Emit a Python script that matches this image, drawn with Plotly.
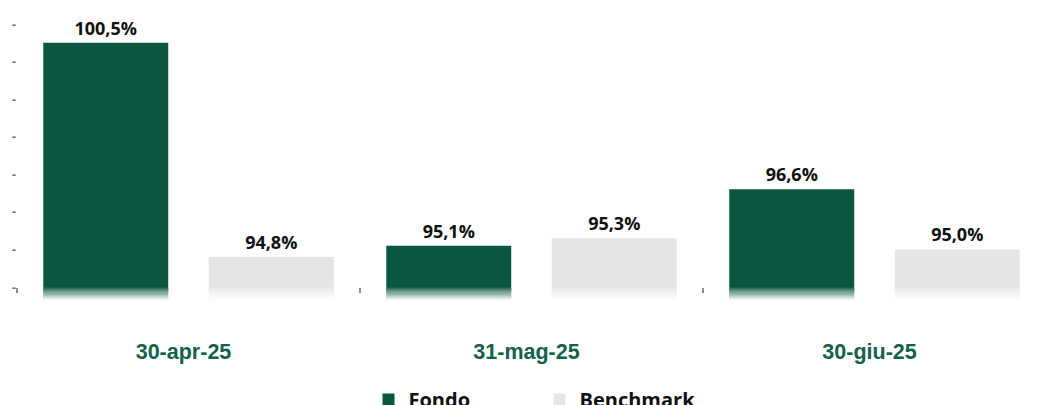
import plotly.graph_objects as go

categories = ["30-apr-25", "31-mag-25", "30-giu-25"]
fondo = [100.5, 95.1, 96.6]
benchmark = [94.8, 95.3, 95.0]
series_names = ["Fondo", "Benchmark"]
y_ticks = [94, 95, 96, 97, 98, 99, 100, 101]
y_tick_labels = ["-"] * len(y_ticks)

GREEN = (11, 86, 64)
GREY = (229, 229, 229)
AXIS_BASE = 94.0
RANGE_BOTTOM = 93.627
RANGE_TOP = 101.373

def rgb(c):
    return "rgb(%d,%d,%d)" % c

def blend(c, t):
    return tuple(round(v + (255 - v) * t) for v in c)

fig = go.Figure()

for name, vals, col, grp in [(series_names[0], fondo, GREEN, "f"),
                             (series_names[1], benchmark, GREY, "b")]:
    fig.add_trace(go.Bar(
        x=categories,
        y=[v - AXIS_BASE for v in vals],
        base=[AXIS_BASE] * len(vals),
        name=name,
        offsetgroup=grp,
        marker=dict(color=rgb(col), line=dict(width=0)),
        text=vals,
        texttemplate="%{text:.1f}%",
        textposition="outside",
        textfont=dict(family="Open Sans", size=18, color="#111111", weight="bold"),
        cliponaxis=False,
        showlegend=True,
    ))
    # fading foot below the axis
    n = 12
    step = (AXIS_BASE - RANGE_BOTTOM) / n
    for k in range(n):
        t = (k + 0.5) / n
        fig.add_trace(go.Bar(
            x=categories,
            y=[step * 1.05] * len(vals),
            base=[AXIS_BASE - (k + 1) * step] * len(vals),
            offsetgroup=grp,
            marker=dict(color=rgb(blend(col, t ** 0.9)), line=dict(width=0)),
            showlegend=False,
            hoverinfo="skip",
        ))

M_T, M_B = 2, 112
plot_h = 405 - M_T - M_B
axis_px_from_bottom = (AXIS_BASE - RANGE_BOTTOM) / (RANGE_TOP - RANGE_BOTTOM) * plot_h

fig.update_layout(
    width=1038, height=405,
    margin=dict(l=9, r=0, t=M_T, b=M_B, autoexpand=False),
    paper_bgcolor="white", plot_bgcolor="white",
    barmode="group", bargap=0.035, bargroupgap=0.245,
    separators=",.",
    showlegend=True,
    legend=dict(
        orientation="h", x=0.3416, xanchor="left", y=-0.2715, yanchor="top",
        font=dict(family="Open Sans", size=20, color="#111111", weight="bold"),
        entrywidth=126, entrywidthmode="pixels",
        traceorder="normal", bgcolor="rgba(0,0,0,0)",
    ),
    xaxis=dict(
        type="category", range=[-0.5, 2.5],
        anchor="free", position=axis_px_from_bottom / plot_h,
        showline=False, showgrid=False, zeroline=False,
        ticks="outside", tickson="boundaries", ticklen=5, tickwidth=1.5,
        tickcolor="#8c8c8c",
        ticklabelstandoff=50, ticklabelshift=-5,
        tickfont=dict(family="Liberation Sans", size=21.5, color="#13614A", weight="bold"),
    ),
    yaxis=dict(
        range=[RANGE_BOTTOM, RANGE_TOP],
        tickvals=y_ticks, ticktext=y_tick_labels,
        showline=False, showgrid=False, zeroline=False, ticks="",
        tickfont=dict(family="Liberation Sans", size=13, color="#6f6f6f", weight="bold"),
    ),
)

fig.write_html("out.html")
